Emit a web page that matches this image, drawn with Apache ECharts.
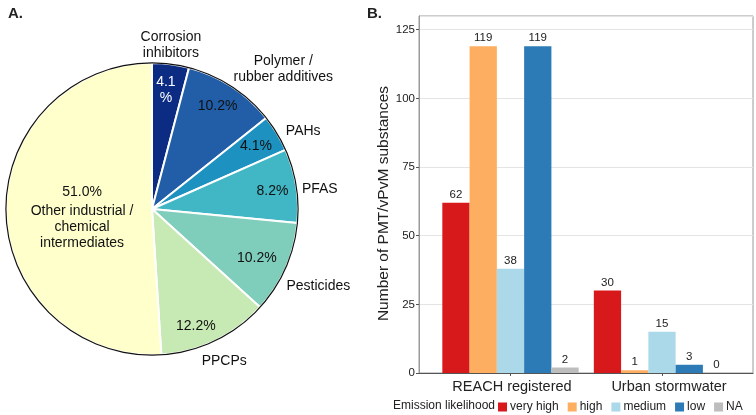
<!DOCTYPE html>
<html>
<head>
<meta charset="utf-8">
<script src="https://cdn.jsdelivr.net/npm/echarts@6/dist/echarts.min.js"></script>
<style>html,body{margin:0;padding:0;background:#fff}#c{width:756px;height:415px}</style>
</head>
<body>
<div id="c"></div>
<script>
// ---- Data ----
const pieNames = ['Corrosion inhibitors', 'Polymer / rubber additives', 'PAHs', 'PFAS', 'Pesticides', 'PPCPs', 'Other industrial / chemical intermediates'];
const pieLabels = ['Corrosion\ninhibitors', 'Polymer /\nrubber additives', 'PAHs', 'PFAS', 'Pesticides', 'PPCPs', ''];
const pieCounts = [2, 5, 2, 4, 5, 6, 25];
const pieColors = ['#0c2c84', '#225ea8', '#1d91c0', '#41b6c4', '#7fcdbb', '#c7e9b4', '#ffffcc'];

const barCategories = ['REACH registered', 'Urban stormwater'];
const emissionLevels = ['very high', 'high', 'medium', 'low', 'NA'];
const veryHigh = [62, 30];
const high = [119, 1];
const medium = [38, 15];
const low = [119, 3];
const na = [2, 0];
const barColors = ['#d7191c', '#fdae61', '#abd9e9', '#2c7bb6', '#bdbdbd'];

// ---- Build ----
const FONT = "'Liberation Sans', Arial, sans-serif";
const total = pieCounts.reduce((a, b) => a + b, 0);
const pct = v => (v / total * 100).toFixed(1) + '%';
const CX = 152, CY = 209, R = 146;

// label nudges (layout only)
const nameShift = [[-3, 6], [38, 3], [5, 11], [-1, 7], [10, 8], [-2, -2], [0, 0]];
const pctShift = [[-2, 4], [-2, 1], [-2, 1], [-2, 2], [-8.5, -1], [-10, 5], [54, 3]];
const catLabelPad = [[1, 0, 0, 3], [1, 0, 0, 14]];

const pieBase = pieNames.map((n, i) => ({ name: n, value: pieCounts[i] }));

const pctData = pieBase.map((d, i) => {
  const item = { name: d.name, value: d.value, itemStyle: { color: 'rgba(0,0,0,0)', borderWidth: 0 }, label: {} };
  if (i === 0) {
    item.label.formatter = p => { const s = pct(p.value); return s.slice(0, -1) + '\n%'; };
    item.label.color = '#ffffff';
  }
  if (i === pieNames.length - 1) {
    item.label.formatter = p => '{p|' + pct(p.value) + '}\n{n|Other industrial /}\n{n|chemical}\n{n|intermediates}';
  }
  return item;
});

const nameData = pieBase.map((d, i) => ({
  name: d.name, value: d.value, itemStyle: { color: 'rgba(0,0,0,0)', borderWidth: 0 },
  label: { formatter: pieLabels[i] }
}));

const seriesVals = [veryHigh, high, medium, low, na];
const barSeries = emissionLevels.map((lv, i) => ({
  name: lv, type: 'bar', xAxisIndex: 1, yAxisIndex: 1,
  data: seriesVals[i], barGap: '0%', barCategoryGap: '10%',
  itemStyle: { color: barColors[i] },
  label: { show: true, position: 'top', distance: 2, fontSize: 11.5, color: '#222', fontFamily: FONT },
  labelLayout: { hideOverlap: false },
  emphasis: { disabled: true }, silent: true
}));

const option = {
  animation: false,
  textStyle: { fontFamily: FONT },
  title: [
    { text: 'A.', left: 3, top: 1, textStyle: { fontSize: 15, fontWeight: 'bold', color: '#222', fontFamily: FONT } },
    { text: 'B.', left: 362, top: 1, textStyle: { fontSize: 15, fontWeight: 'bold', color: '#222', fontFamily: FONT } },
    { text: 'Emission likelihood', left: 393, top: 400, padding: 0, textStyle: { fontSize: 12, fontWeight: 'normal', color: '#222', fontFamily: FONT } }
  ],
  legend: {
    data: emissionLevels, left: 498, top: 401, padding: 0, itemWidth: 9, itemHeight: 9, itemGap: 9,
    icon: 'rect', textStyle: { fontSize: 12, color: '#222', fontFamily: FONT, padding: [0, 0, 0, -2] }, selectedMode: false
  },
  grid: [
    { left: 419, right: 3, top: 16, bottom: 42, show: true, borderColor: '#9a9a9a', borderWidth: 1, backgroundColor: 'transparent' },
    { left: 434.75, right: 18.25, top: 16, bottom: 42 }
  ],
  xAxis: [
    { type: 'value', gridIndex: 0, min: 0, max: 1, axisLine: { show: true, onZero: false, lineStyle: { color: '#555', width: 1.2 } },
      axisTick: { show: false }, axisLabel: { show: false }, splitLine: { show: false } },
    { type: 'category', gridIndex: 1,
      data: barCategories.map((c, i) => ({ value: c, textStyle: { padding: catLabelPad[i] } })),
      axisLine: { show: false },
      axisTick: { show: true, alignWithLabel: true, interval: 0, length: 3, lineStyle: { color: '#555' } },
      axisLabel: { fontSize: 14.5, color: '#222', margin: 5, interval: 0, hideOverlap: false, fontFamily: FONT } }
  ],
  yAxis: [
    { type: 'value', gridIndex: 0, min: 0, max: 130, interval: 25,
      name: 'Number of PMT/vPvM substances', nameLocation: 'middle', nameGap: 27,
      nameTextStyle: { fontSize: 15.5, color: '#222', fontFamily: FONT, padding: [0, 18, 0, 0] },
      axisLine: { show: true, lineStyle: { color: '#9a9a9a' } },
      axisTick: { show: true, length: 3, lineStyle: { color: '#555' } },
      axisLabel: { fontSize: 11.5, color: '#222', margin: 4, showMaxLabel: false, fontFamily: FONT },
      splitLine: { show: true, lineStyle: { color: '#e4e4e4', width: 1.2 } } },
    { type: 'value', gridIndex: 1, min: 0, max: 130, show: false, splitLine: { show: false } }
  ],
  series: [
    { type: 'pie', center: [CX, CY], radius: [0, R], startAngle: 90, clockwise: true,
      data: pieBase.map((d, i) => ({ ...d, itemStyle: { color: pieColors[i] } })),
      itemStyle: { borderColor: '#ffffff', borderWidth: 2 },
      label: { show: false }, labelLine: { show: false }, silent: true, emphasis: { disabled: true } },
    { type: 'pie', center: [CX, CY], radius: [R - 0.5, R + 0.7], startAngle: 90,
      data: [{ value: 1, itemStyle: { color: '#111' } }],
      label: { show: false }, labelLine: { show: false }, silent: true, emphasis: { disabled: true } },
    { type: 'pie', center: [CX, CY], radius: [96, R], startAngle: 90, clockwise: true,
      data: pctData, avoidLabelOverlap: false,
      label: { show: true, position: 'inside', fontSize: 14, color: '#111', lineHeight: 16, fontFamily: FONT,
        formatter: p => pct(p.value),
        rich: { p: { fontSize: 14, lineHeight: 22, color: '#111', fontFamily: FONT }, n: { fontSize: 14, lineHeight: 16, color: '#111', fontFamily: FONT } } },
      labelLayout: p => ({ dx: pctShift[p.dataIndex][0], dy: pctShift[p.dataIndex][1], hideOverlap: false }),
      labelLine: { show: false }, silent: true, emphasis: { disabled: true } },
    { type: 'pie', center: [CX, CY], radius: [R, 190], startAngle: 90, clockwise: true,
      data: nameData, avoidLabelOverlap: false,
      label: { show: true, position: 'inside', fontSize: 14, color: '#111', lineHeight: 16, fontFamily: FONT },
      labelLayout: p => ({ dx: nameShift[p.dataIndex][0], dy: nameShift[p.dataIndex][1], hideOverlap: false }),
      labelLine: { show: false }, silent: true, emphasis: { disabled: true } },
    ...barSeries
  ]
};

const chart = echarts.init(document.getElementById('c'), null, { renderer: 'canvas' });
chart.setOption(option);
</script>
</body>
</html>
